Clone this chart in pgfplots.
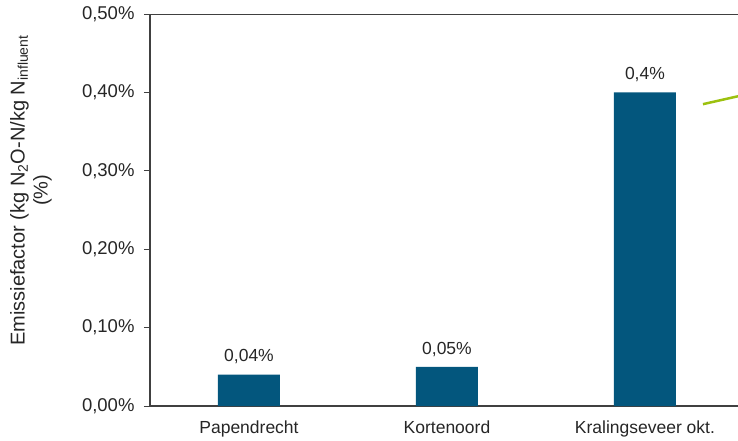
\documentclass[border=0pt]{standalone}
\usepackage{pgfplots}
\pgfplotsset{compat=1.18}
\usepackage{fontspec}
\setmainfont{Liberation Sans}
\definecolor{barblue}{HTML}{03567D}
\definecolor{limeg}{HTML}{9CC10F}
\definecolor{axgray}{HTML}{404040}
\definecolor{txt}{HTML}{262626}
\begin{document}
\begin{tikzpicture}[font=\fontsize{17.5bp}{21bp}\selectfont]
\begin{axis}[
  scale only axis, width=588bp, height=392bp,
  xmin=-0.5, xmax=2.47, ymin=0, ymax=0.5,
  axis x line*=bottom, axis y line*=left,
  axis line style={axgray, line width=1.3bp},
  xtick={0,1,2},
  xticklabels={Papendrecht,Kortenoord,Kralingseveer okt.},
  x tick style={draw=none},
  xticklabel style={yshift=-5bp},
  ytick={0,0.1,0.2,0.3,0.4,0.5},
  yticklabels={{0,00\%},{0,10\%},{0,20\%},{0,30\%},{0,40\%},{0,50\%}},
  yticklabel style={xshift=-6bp, font=\fontsize{18.5bp}{22bp}\selectfont},
  y tick style={axgray, line width=1bp},
  tick align=outside, major tick length=6bp,
  tick label style={text=txt},
  every axis y label/.style={at={(rel axis cs:-0.2024,0.55)}, rotate=90, anchor=center, align=center, text=txt, font=\fontsize{20bp}{23bp}\selectfont},
  ylabel={Emissiefactor (kg N\textsubscript{2}O-N/kg N\textsubscript{influent}\\(\%)},
  clip=true,
]
\addplot[ybar, bar width=62bp, fill=barblue, draw=none,
  nodes near coords={\pgfplotspointmeta\%},
  point meta=explicit symbolic,
  every node near coord/.append style={text=txt, yshift=7bp}]
  table[meta=lab]{
x y lab
0 0.04 0,04
1 0.05 0,05
2 0.40 0,4
};
\addplot[limeg, line width=2.5bp, forget plot] coordinates {(2.293,0.385) (2.6,0.4025)};
\draw[axgray, line width=1.3bp] (rel axis cs:0,1) -- (rel axis cs:1,1);
\end{axis}
\pgfresetboundingbox
\path (-150bp,-35bp) rectangle (588bp,406bp);
\end{tikzpicture}
\end{document}
